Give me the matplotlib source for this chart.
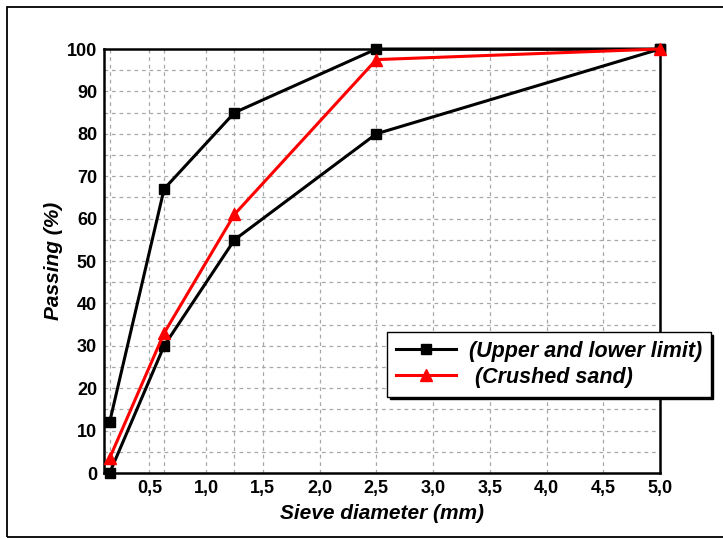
import matplotlib.pyplot as plt
from matplotlib.patches import Rectangle

plt.rcParams['font.family'] = ['Liberation Sans', 'DejaVu Sans']

# sieve sizes (mm) and passing (%)
sieve = [0.15, 0.63, 1.25, 2.5, 5.0]
upper_limit = [12, 67, 85, 100, 100]
lower_limit = [0, 30, 55, 80, 100]
crushed_sand = [3.5, 33, 61, 97.5, 100]

x_ticks = [0.5, 1.0, 1.5, 2.0, 2.5, 3.0, 3.5, 4.0, 4.5, 5.0]
x_labels = ['0,5', '1,0', '1,5', '2,0', '2,5', '3,0', '3,5', '4,0', '4,5', '5,0']
y_ticks = list(range(0, 101, 10))

fig = plt.figure(figsize=(7.23, 5.38), dpi=100)
ax = fig.add_axes([0.1438, 0.1208, 0.7691, 0.7881])

# border round the whole figure
fig.patches.append(Rectangle((7 / 723, 1 / 538), 1.0, 1 - 8 / 538,
                             transform=fig.transFigure, fill=False,
                             edgecolor='black', linewidth=1.3, clip_on=False))

# dashed grid: tick positions plus the sieve sizes
for xv in sorted(set(x_ticks + sieve)):
    ax.axvline(xv, color='#a8a8a8', linestyle=(0, (3, 3)), linewidth=0.9, zorder=0)
for yv in range(5, 100, 5):
    ax.axhline(yv, color='#a8a8a8', linestyle=(0, (3, 3)), linewidth=0.9, zorder=0)

ax.plot(sieve, upper_limit, color='black', marker='s', markersize=7,
        linewidth=2.2, label='(Upper and lower limit)', clip_on=False, zorder=3)
ax.plot(sieve, lower_limit, color='black', marker='s', markersize=7,
        linewidth=2.2, clip_on=False, zorder=3)
ax.plot(sieve, crushed_sand, color='red', marker='^', markersize=8,
        linewidth=2.2, label=' (Crushed sand)', clip_on=False, zorder=4)

ax.set_xlim(0.1, 5.0)
ax.set_ylim(0, 100)
ax.set_xticks(x_ticks)
ax.set_xticklabels(x_labels)
ax.set_yticks(y_ticks)
ax.tick_params(length=0, pad=5, labelsize=13)
for lbl in ax.get_xticklabels() + ax.get_yticklabels():
    lbl.set_fontweight('bold')
for s in ax.spines.values():
    s.set_linewidth(1.8)

ax.set_xlabel('Sieve diameter (mm)', fontsize=15, fontweight='bold',
              fontstyle='italic', labelpad=5)
ax.set_ylabel('Passing (%)', fontsize=15, fontweight='bold',
              fontstyle='italic', labelpad=3)

leg = ax.legend(loc='upper left', bbox_to_anchor=(0.509, 0.3325),
                borderaxespad=0, fancybox=False, frameon=True,
                shadow={'color': 'black', 'alpha': 1},
                prop={'weight': 'bold', 'style': 'italic', 'size': 15.5},
                handlelength=2.8, borderpad=0.4, labelspacing=0.25,
                handletextpad=0.6)
leg.get_frame().set_edgecolor('black')
leg.get_frame().set_linewidth(1.0)
leg.set_zorder(10)

fig.savefig('out.png', dpi=100)
